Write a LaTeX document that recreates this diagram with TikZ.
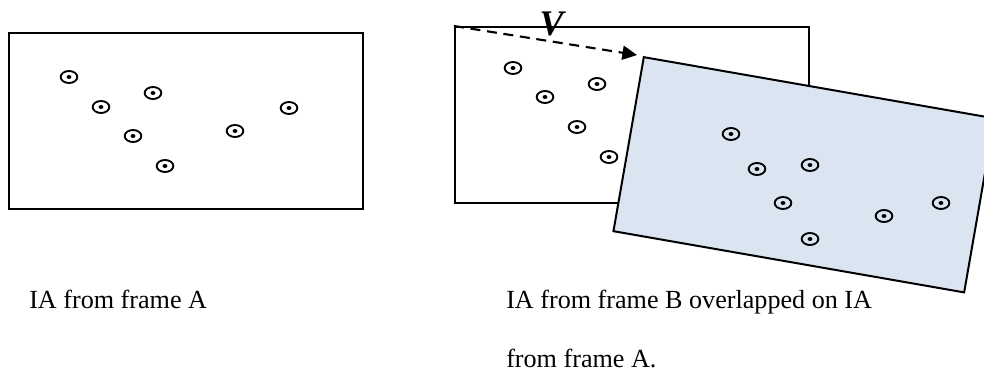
\documentclass[tikz,border=0pt]{standalone}
\usepackage{fontspec}
\setmainfont{Liberation Serif}
\usetikzlibrary{arrows.meta,shapes.geometric}
\definecolor{paneblue}{RGB}{219,229,241}
\tikzset{
  % interrogation-area frame
  iaframe/.style={draw=black, line width=1.5pt, rectangle, inner sep=0pt,
    minimum width=265.5pt, minimum height=132pt, anchor=north west},
  % particle marker: ring with a dot in the middle
  spot/.style={ellipse, draw=black, line width=1.4pt, inner sep=0pt,
    minimum width=12.5pt, minimum height=9pt,
    path picture={\fill (path picture bounding box.center)
      ellipse [x radius=1.8pt, y radius=1.5pt];}},
  caption/.style={anchor=base west, inner sep=0pt,
    font=\fontsize{19.6}{24}\selectfont},
  shift vector/.style={line width=1.6pt, dash pattern=on 7.5pt off 5pt,
    -{Triangle[length=11pt,width=10.5pt]}, shorten >=4.5pt},
}
\begin{document}
\begin{tikzpicture}[x=0.75pt, y=-0.75pt]
\useasboundingbox (0,0) rectangle (984,373);
\clip (0,0) rectangle (984,373);

% frame A on its own
\node[iaframe] (fa1) at (8,32) {};
\foreach \n/\px/\py in {1/69/77, 2/101/107, 3/153/93, 4/133/136,
                        5/165/166, 6/235/131, 7/289/108}
  \node[spot] (a\n) at (\px,\py) {};

% frame A again, underneath frame B
\node[iaframe, fill=white] (fa2) at (454,26) {};
\foreach \n/\px/\py in {1/513/68, 2/545/97, 3/597/84, 4/577/127, 5/609/157}
  \node[spot] (b\n) at (\px,\py) {};

% frame B, displaced and rotated
\coordinate (fbnw) at (643,56);
\node[iaframe, fill=paneblue, rotate=-9.9, minimum width=267pt,
      minimum height=132.5pt] (fb) at (fbnw) {};
\foreach \n/\px/\py in {1/731/134, 2/757/169, 3/810/165, 4/783/203,
                        5/810/239, 6/884/216, 7/941/203}
  \node[spot] (c\n) at (\px,\py) {};

% displacement vector
\draw[shift vector] (fa2.north west) -- (fbnw);
\node[inner sep=0pt, font=\fontsize{27}{30}\selectfont\bfseries\itshape]
  (vlabel) at (551.5,24) {V};

% captions
\node[caption] (capA) at (29,309) {IA from frame A};
\node[caption] (capB1) at (506,309) {IA from frame B overlapped on IA};
\node[caption] (capB2) at (506,368) {from frame A.};
\end{tikzpicture}
\end{document}
